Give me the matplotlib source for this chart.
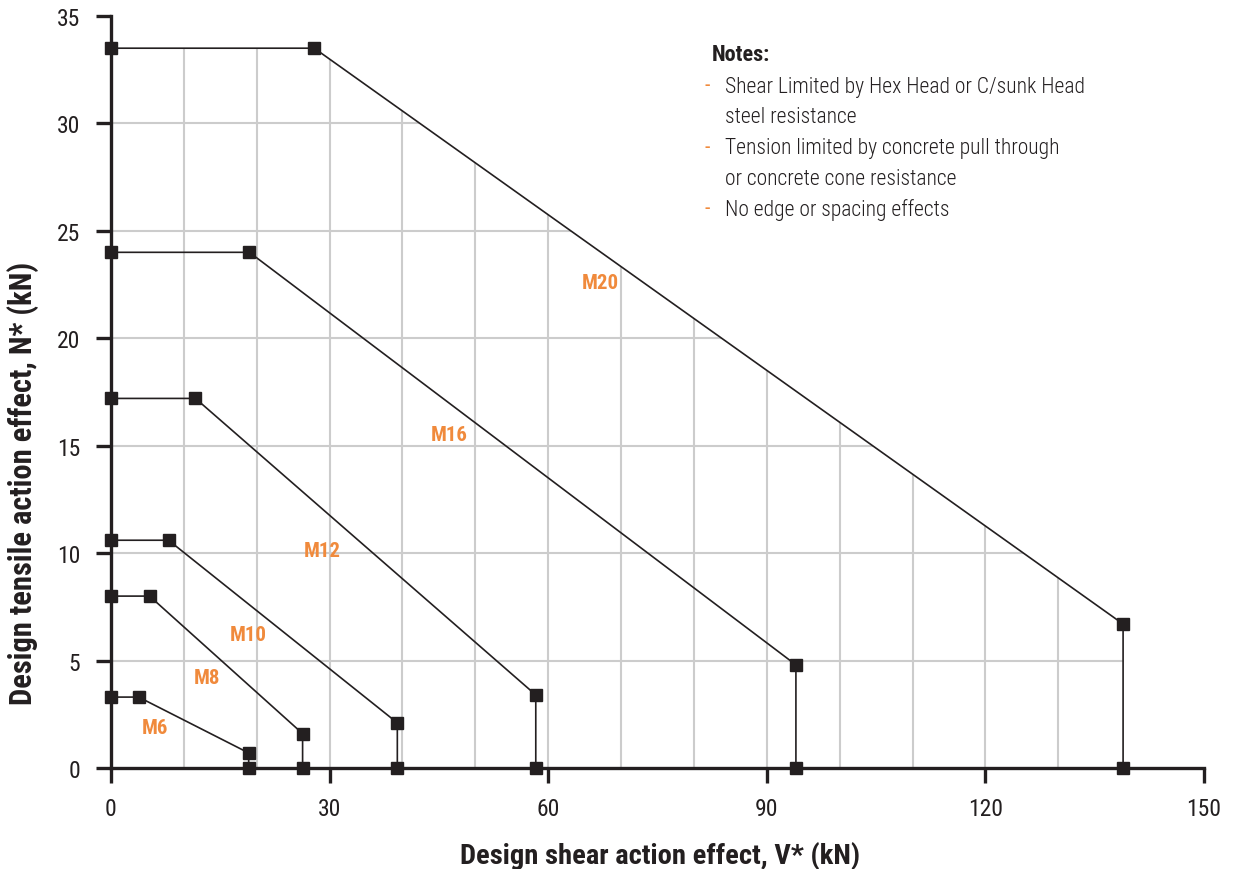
import matplotlib
matplotlib.use('Agg')
import matplotlib.pyplot as plt
from matplotlib.patches import Polygon

plt.rcParams['font.family'] = ['Roboto Condensed', 'DejaVu Sans']

# each curve: tension plateau, then linear drop to the shear limit
sizes = ['M6', 'M8', 'M10', 'M12', 'M16', 'M20']
n_max = [3.3, 8.0, 10.6, 17.2, 24.0, 33.5]
v_knee = [3.8, 5.3, 7.9, 11.6, 19.0, 27.9]
v_max = [18.9, 26.3, 39.3, 58.3, 94.0, 138.9]
n_end = [0.7, 1.6, 2.1, 3.4, 4.8, 6.7]
label_x = [6.0, 13.2, 18.8, 29.0, 46.4, 67.2]
label_y = [1.9, 4.2, 6.2, 10.1, 15.5, 22.6]

notes = ['Shear Limited by Hex Head or C/sunk Head', 'steel resistance',
         'Tension limited by concrete pull through', 'or concrete cone resistance',
         'No edge or spacing effects']
dash_rows = [0, 2, 4]

orange = '#F08A3C'
dark = '#231F20'

fig = plt.figure(figsize=(12.37, 8.70), dpi=100)
ax = fig.add_axes([0.0897, 0.1161, 0.8836, 0.8644])
ax.set_xlim(0, 150)
ax.set_ylim(0, 35)

# grid only shows under the biggest (M20) envelope
env = Polygon([(0, 0), (0, n_max[-1]), (v_knee[-1], n_max[-1]),
               (v_max[-1], n_end[-1]), (v_max[-1], 0)],
              closed=True, transform=ax.transData, fc='none', ec='none')
ax.add_patch(env)
gx = list(range(10, 150, 10))
gy = list(range(5, 35, 5))
vl = ax.vlines(gx, 0, 35, color='#cccccc', lw=1.5, zorder=1)
hl = ax.hlines(gy, 0, 150, color='#cccccc', lw=1.5, zorder=1)
vl.set_clip_path(env)
hl.set_clip_path(env)

for s, nm, vk, vm, ne in zip(sizes, n_max, v_knee, v_max, n_end):
    xs = [0, vk, vm, vm]
    ys = [nm, nm, ne, 0]
    ax.plot(xs, ys, color=dark, lw=1.2, marker='s', ms=8.7, zorder=4, clip_on=False)

for s, lx, ly in zip(sizes, label_x, label_y):
    ax.text(lx, ly, s, color=orange, fontsize=15, fontweight='bold', ha='center', va='center')

for side in ['top', 'right']:
    ax.spines[side].set_visible(False)
for side in ['left', 'bottom']:
    ax.spines[side].set_linewidth(2.4)
    ax.spines[side].set_color(dark)
    ax.spines[side].set_zorder(3)

ax.set_xticks(range(0, 151, 30))
ax.set_yticks(range(0, 36, 5))
ax.tick_params(direction='out', length=11, width=2.4, color=dark, labelsize=17, labelcolor=dark)
ax.tick_params(axis='x', pad=10)
ax.tick_params(axis='y', pad=11)

ax.set_xlabel('Design shear action effect, V* (kN)', fontsize=20.5, fontweight='bold', color=dark)
ax.set_ylabel('Design tensile action effect, N* (kN)', fontsize=22, fontweight='bold', color=dark)
ax.xaxis.set_label_coords(0.502, -0.097)
ax.yaxis.set_label_coords(-0.066, 0.38)

fig.text(712 / 1237, 1 - 55 / 870, 'Notes:', fontsize=16, fontweight='bold', color=dark, va='center')
for i, line in enumerate(notes):
    y = 1 - (87 + 30.7 * i) / 870
    if i in dash_rows:
        fig.text(704 / 1237, y, '-', fontsize=15.5, color=orange, va='center')
    fig.text(725 / 1237, y, line, fontsize=15.5, fontweight='light', color=dark, va='center')

fig.savefig('out.png', dpi=100)
